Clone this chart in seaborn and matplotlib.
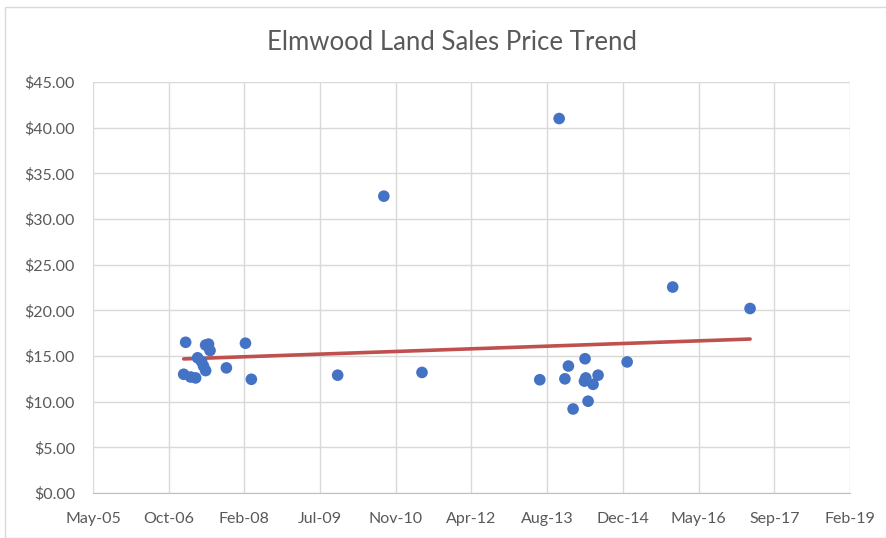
import pandas as pd
import numpy as np
import seaborn as sns
import matplotlib.pyplot as plt
import matplotlib.dates as mdates
from matplotlib.ticker import FuncFormatter, MultipleLocator
from matplotlib.patches import Rectangle

sale_dates = [
    "2007-01-17", "2007-01-30", "2007-03-04", "2007-04-06", "2007-04-19",
    "2007-05-15", "2007-05-28", "2007-06-11", "2007-06-11", "2007-06-30",
    "2007-07-10", "2007-10-26", "2008-02-29", "2008-04-08", "2009-10-30",
    "2010-08-31", "2011-05-10", "2013-06-26", "2013-11-01", "2013-12-09",
    "2014-01-01", "2014-02-01", "2014-04-21", "2014-04-26", "2014-04-17",
    "2014-05-11", "2014-06-13", "2014-07-16", "2015-01-24", "2015-11-21",
    "2017-04-15",
]
price = [
    13.0, 16.5, 12.7, 12.6, 14.8,
    14.4, 13.9, 13.4, 16.2, 16.3,
    15.6, 13.7, 16.4, 12.45, 12.9,
    32.5, 13.2, 12.4, 41.0, 12.5,
    13.9, 9.2, 14.7, 12.6, 12.25,
    10.05, 11.9, 12.9, 14.35, 22.55,
    20.2,
]
tick_dates = ["2005-05-28", "2006-10-10", "2008-02-22", "2009-07-06", "2010-11-18",
              "2012-04-01", "2013-08-14", "2014-12-27", "2016-05-10", "2017-09-22",
              "2019-02-04"]

df = pd.DataFrame({"date": pd.to_datetime(sale_dates), "price": price})
df["x"] = mdates.date2num(df["date"])
ticks = mdates.date2num(pd.to_datetime(tick_dates))

sns.set_style("white")
plt.rcParams["font.family"] = ["Lato", "DejaVu Sans"]

fig = plt.figure(figsize=(8.86, 5.38), dpi=100)
ax = fig.add_axes([93 / 886, 45 / 538, 757 / 886, 411 / 538])

# chart area border, like the Excel frame
fig.patches.append(Rectangle((5 / 886, 0), 1.0, 1 - 7 / 538, transform=fig.transFigure,
                             fill=False, edgecolor="#d9d9d9", linewidth=1.0))

sns.regplot(data=df, x="x", y="price", scatter=False, ci=None, truncate=True,
            color="#c0504d", line_kws={"linewidth": 2.6}, ax=ax)
sns.scatterplot(data=df, x="x", y="price", color="#4472c4", s=70, edgecolor="none",
                ax=ax, zorder=3)

ax.set_xlim(ticks[0], ticks[-1])
ax.set_ylim(0, 45)
ax.set_xticks(ticks)
ax.xaxis.set_major_formatter(mdates.DateFormatter("%b-%y"))
ax.yaxis.set_major_locator(MultipleLocator(5))
ax.yaxis.set_major_formatter(FuncFormatter(lambda v, p: f"${v:,.2f}"))
ax.grid(True, color="#d9d9d9", linewidth=1.0)
ax.set_axisbelow(True)
for side in ["top", "right", "left"]:
    ax.spines[side].set_visible(False)
ax.spines["bottom"].set_color("#bfbfbf")
ax.tick_params(length=0, labelsize=11.5, colors="#595959")
ax.tick_params(axis="x", pad=14)
ax.tick_params(axis="y", pad=13)
ax.set_xlabel("")
ax.set_ylabel("")
fig.text(452 / 886, 1 - 42 / 538, "Elmwood Land Sales Price Trend", ha="center", va="center",
         fontsize=18.5, color="#595959")

plt.savefig("out.png", dpi=100)
